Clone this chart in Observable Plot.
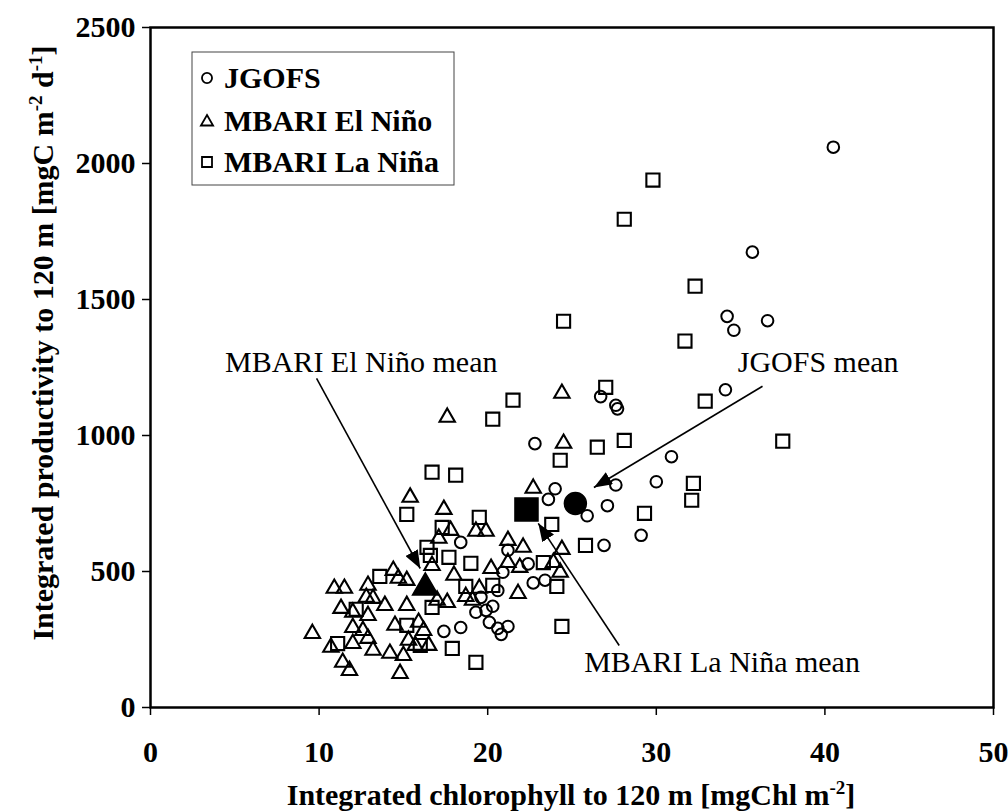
<!DOCTYPE html>
<html><head><meta charset="utf-8">
<script src="https://cdn.jsdelivr.net/npm/d3@7"></script>
<script src="https://cdn.jsdelivr.net/npm/@observablehq/plot@0.6"></script>
<style>html,body{margin:0;padding:0;background:#fff}</style>
</head><body><div id="chart"></div>
<script>
// ---- data ----
const jgofsX = [40.5,35.7,34.2,34.6,36.6,34.1,26.7,27.6,27.7,22.8,30.9,24.0,23.6,27.6,30.0,27.1,25.9,29.1,26.9,18.4,22.4,22.7,23.4,20.9,20.6,20.3,19.9,19.3,20.1,20.6,21.2,20.8,17.4,18.4,19.6,21.2];
const jgofsY = [2060,1674,1438,1387,1422,1168,1143,1111,1098,970,922,804,765,818,830,742,705,633,596,607,528,458,468,497,430,372,357,350,313,291,298,269,280,294,405,578];

const ninoX = [17.6,24.4,24.5,22.7,15.4,17.4,17.8,17.1,19.3,19.9,21.2,22.1,24.4,21.2,21.9,23.9,24.3,20.2,21.8,18.0,19.5,19.1,17.0,17.6,18.7,15.2,14.7,14.4,15.2,10.9,11.5,12.9,12.8,11.3,12.0,13.9,12.9,9.6,12.0,12.6,12.9,10.7,12.0,13.2,11.4,11.8,14.2,15.0,14.8,14.5,15.3,15.9,16.2,16.5,15.7,16.7,13.2];
const ninoY = [1067,1155,971,806,773,728,651,622,648,648,614,589,581,533,515,533,497,511,419,486,438,394,394,386,408,375,475,504,467,438,438,449,405,364,350,375,338,272,294,283,254,221,235,210,166,136,199,191,125,302,247,313,283,228,228,522,401];

const ninaX = [29.8,28.1,32.3,24.5,31.7,27.0,32.9,37.5,28.1,26.5,21.5,20.3,24.3,16.7,18.1,32.2,32.1,29.3,25.8,23.8,15.2,19.5,17.7,19.0,23.3,24.1,17.3,16.4,16.6,13.6,18.7,16.7,12.2,11.1,15.2,16.0,17.9,19.3,24.4,20.3];
const ninaY = [1939,1795,1549,1420,1347,1177,1126,979,982,957,1130,1060,909,865,854,824,762,714,596,673,710,699,552,530,533,445,662,589,559,482,445,368,361,235,302,228,217,166,298,449];

const meanNames = ["JGOFS","MBARI El Niño","MBARI La Niña"];
const meanX = [25.2,16.3,22.3];
const meanY = [750,441,728];

const annText = ["JGOFS mean","MBARI El Niño mean","MBARI La Niña mean"];
const annTextX = [39.6,12.5,33.9];
const annTextY = [1270,1270,165];
const annFromX = [36.3,9.85,27.8];
const annFromY = [1181,1210,228];
const annToX = [26.3,16.0,23.0];
const annToY = [809,511,677];

const xTicks = [0,10,20,30,40,50];
const yTicks = [0,500,1000,1500,2000,2500];
const legendLabels = ["JGOFS","MBARI El Niño","MBARI La Niña"];

// ---- build tables ----
const zip = (xs, ys) => xs.map((x, i) => ({x, y: ys[i]}));
const jgofs = zip(jgofsX, jgofsY);
const nino = zip(ninoX, ninoY);
const nina = zip(ninaX, ninaY);
const means = meanNames.map((n, i) => ({n, x: meanX[i], y: meanY[i]}));
const anns = annText.map((t, i) => ({t, tx: annTextX[i], ty: annTextY[i], x1: annFromX[i], y1: annFromY[i], x2: annToX[i], y2: annToY[i]}));

const FONT = "'Liberation Serif','Times New Roman',Times,serif";

const plot = Plot.plot({
  width: 1008, height: 812,
  marginLeft: 150, marginRight: 15, marginTop: 27, marginBottom: 105,
  style: {fontFamily: FONT, fontSize: "30px", fontWeight: "bold", background: "#fff", color: "#000", overflow: "visible"},
  x: {domain: [0, 50]},
  y: {domain: [0, 2500]},
  marks: [
    Plot.axisX(xTicks, {tickSize: 8, tickPadding: 25, label: null, tickFormat: d => String(d), fontSize: 30, fontWeight: "bold", strokeWidth: 1.5}),
    Plot.axisY(yTicks, {tickSize: 8, tickPadding: 7, label: null, tickFormat: d => String(d), fontSize: 30, fontWeight: "bold", strokeWidth: 1.5}),
    Plot.frame({stroke: "#000", strokeWidth: 2.5}),
    Plot.dot(nino, {x: "x", y: "y", symbol: "triangle", r: 5.7, stroke: "#000", strokeWidth: 2.1, fill: "none"}),
    Plot.dot(nina, {x: "x", y: "y", symbol: "square", r: 7.4, stroke: "#000", strokeWidth: 2.1, fill: "none"}),
    Plot.dot(jgofs, {x: "x", y: "y", symbol: "circle", r: 5.8, stroke: "#000", strokeWidth: 2, fill: "none"}),
    Plot.dot(means.filter(d => d.n === "MBARI El Niño"), {x: "x", y: "y", symbol: "triangle", r: 9.5, fill: "#000", stroke: "#000"}),
    Plot.dot(means.filter(d => d.n === "MBARI La Niña"), {x: "x", y: "y", symbol: "square", r: 13, fill: "#000", stroke: "#000"}),
    Plot.dot(means.filter(d => d.n === "JGOFS"), {x: "x", y: "y", symbol: "circle", r: 11, fill: "#000", stroke: "#000"}),
    Plot.link(anns, {x1: "x1", y1: "y1", x2: "x2", y2: "y2", stroke: "#000", strokeWidth: 1.6}),
    Plot.text(anns, {x: "tx", y: "ty", text: "t", fontSize: 30, fontWeight: "normal", fill: "#000"})
  ]
});

document.getElementById("chart").appendChild(plot);
const svg = d3.select(plot);

// arrowheads on the annotation links
const defs = svg.append("defs");
defs.append("marker").attr("id", "ah").attr("viewBox", "0 0 18 14")
  .attr("refX", 18).attr("refY", 7).attr("markerWidth", 18).attr("markerHeight", 14)
  .attr("markerUnits", "userSpaceOnUse").attr("orient", "auto")
  .append("path").attr("d", "M0,0L18,7L0,14Z").attr("fill", "#000");
svg.selectAll('g[aria-label="link"] path, g[aria-label="link"] line').attr("marker-end", "url(#ah)");

// axis titles with superscripts
function titled(sel, parts) {
  let shift = 0;
  parts.forEach(p => {
    const ts = sel.append("tspan").text(p.t);
    if (p.sup) {
      ts.attr("dy", -11 - shift).attr("font-size", 19);
      shift = -11;
    } else if (shift !== 0) {
      ts.attr("dy", -shift);
      shift = 0;
    }
  });
}
const xt = svg.append("text").attr("x", 571).attr("y", 805).attr("text-anchor", "middle")
  .attr("font-size", 30).attr("font-weight", "bold").attr("fill", "#000");
titled(xt, [{t: "Integrated chlorophyll to 120 m [mgChl m"}, {t: "-2", sup: true}, {t: "]"}]);
const yt = svg.append("text").attr("transform", "translate(53,343) rotate(-90)").attr("text-anchor", "middle")
  .attr("font-size", 30).attr("font-weight", "bold").attr("fill", "#000");
titled(yt, [{t: "Integrated productivity to 120 m [mgC m"}, {t: "-2", sup: true}, {t: " d"}, {t: "-1", sup: true}, {t: "]"}]);

// legend
const lg = svg.append("g");
lg.append("rect").attr("x", 192).attr("y", 52).attr("width", 262).attr("height", 133)
  .attr("fill", "#fff").attr("stroke", "#444").attr("stroke-width", 1);
const rowsY = [78, 121, 162];
const syms = [d3.symbolCircle, d3.symbolTriangle, d3.symbolSquare];
const sizes = [80, 64, 100];
legendLabels.forEach((lab, i) => {
  lg.append("path").attr("d", d3.symbol(syms[i], sizes[i])())
    .attr("transform", `translate(207,${rowsY[i] + (i === 1 ? 1 : 0)})`)
    .attr("fill", "none").attr("stroke", "#000").attr("stroke-width", 1.8);
  lg.append("text").attr("x", 224).attr("y", rowsY[i] + 10).attr("text-anchor", "start")
    .attr("font-size", 30).attr("font-weight", "bold").attr("fill", "#000").text(lab);
});
</script>
</body></html>
